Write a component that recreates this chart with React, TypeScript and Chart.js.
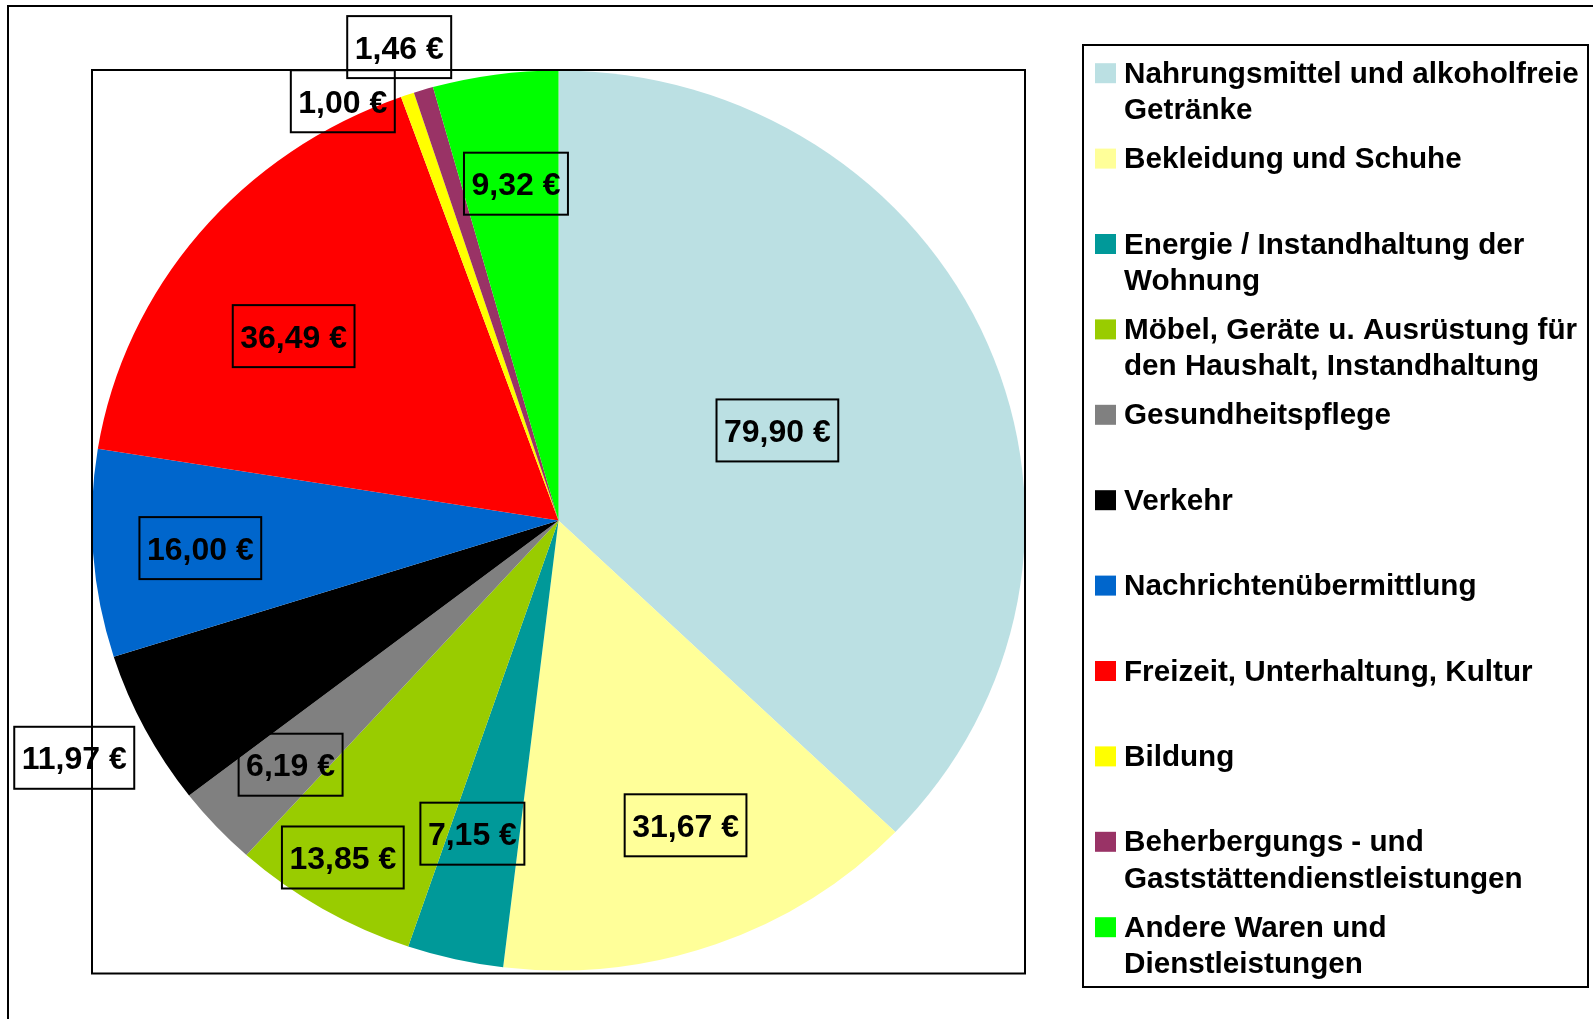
import React, { useEffect, useRef } from "react";
import { Chart, registerables } from "chart.js";

Chart.register(...registerables);

// ---- data ----
const categories: string[] = [
  "Nahrungsmittel und alkoholfreie Getränke",
  "Bekleidung und Schuhe",
  "Energie / Instandhaltung der Wohnung",
  "Möbel, Geräte u. Ausrüstung für den Haushalt, Instandhaltung",
  "Gesundheitspflege",
  "Verkehr",
  "Nachrichtenübermittlung",
  "Freizeit, Unterhaltung, Kultur",
  "Bildung",
  "Beherbergungs - und Gaststättendienstleistungen",
  "Andere Waren und Dienstleistungen",
];
const values: number[] = [79.9, 31.67, 7.15, 13.85, 6.19, 11.97, 16.0, 36.49, 1.0, 1.46, 9.32];
const colors: string[] = [
  "#BBE0E3",
  "#FFFF99",
  "#009999",
  "#99CC00",
  "#808080",
  "#000000",
  "#0066CC",
  "#FF0000",
  "#FFFF00",
  "#993366",
  "#00FF00",
];

// ---- label placement (fraction of radius, angle offset in degrees from slice middle) ----
const labelRadius: number[] = [0.51, 0.73, 0.72, 0.88, 0.79, 1.164, 0.77, 0.7, 1.04, 1.106, 0.754];
const labelAngleOffset: number[] = [0, -2.2, 2.05, 1.3, -0.55, 0.7, -0.35, -3.9, -7.5, -1.15, 0.86];

// ---- layout ----
const W = 1593;
const H = 1019;
const STRETCH = 1.037;
const FONT = '"Liberation Sans", Arial, Helvetica, sans-serif';

const formatEuro = (v: number) => v.toFixed(2).replace(".", ",") + " €";

function wrap(ctx: CanvasRenderingContext2D, text: string, maxWidth: number, scale: number): string[] {
  const words = text.split(" ");
  const lines: string[] = [];
  let cur = "";
  for (const w of words) {
    const test = cur ? cur + " " + w : w;
    if (ctx.measureText(test).width * scale > maxWidth && cur) {
      lines.push(cur);
      cur = w;
    } else {
      cur = test;
    }
  }
  if (cur) lines.push(cur);
  return lines;
}

const decor = {
  id: "excelDecor",
  beforeDraw(chart: any) {
    const ctx: CanvasRenderingContext2D = chart.ctx;
    ctx.save();
    ctx.fillStyle = "#FFFFFF";
    ctx.fillRect(0, 0, W, H);
    // outer chart border (continues beyond the visible area)
    ctx.strokeStyle = "#000000";
    ctx.lineWidth = 2;
    ctx.strokeRect(8, 6, 2000, 2000);
    ctx.restore();
  },
  beforeDatasetsDraw(chart: any) {
    const ctx: CanvasRenderingContext2D = chart.ctx;
    const arc = chart.getDatasetMeta(0).data[0];
    ctx.save();
    ctx.translate(arc.x, arc.y);
    ctx.scale(STRETCH, 1);
    ctx.translate(-arc.x, -arc.y);
  },
  afterDatasetsDraw(chart: any) {
    const ctx: CanvasRenderingContext2D = chart.ctx;
    ctx.restore();

    // plot area box
    ctx.save();
    ctx.strokeStyle = "#000000";
    ctx.lineWidth = 2;
    ctx.strokeRect(92, 70, 933, 903.5);

    // data labels
    const meta = chart.getDatasetMeta(0);
    const data: number[] = chart.data.datasets[0].data;
    ctx.font = `bold 32px ${FONT}`;
    ctx.textAlign = "center";
    ctx.textBaseline = "alphabetic";
    meta.data.forEach((el: any, i: number) => {
      const p = el.getProps(["x", "y", "startAngle", "endAngle", "outerRadius"], true);
      const mid = (p.startAngle + p.endAngle) / 2 + (labelAngleOffset[i] * Math.PI) / 180;
      const r = p.outerRadius * labelRadius[i];
      const lx = p.x + Math.cos(mid) * r * STRETCH;
      const ly = p.y + Math.sin(mid) * r;
      const txt = formatEuro(data[i]);
      const tw = ctx.measureText(txt).width;
      const bw = tw + 15;
      const bh = 62;
      ctx.lineWidth = 2;
      ctx.strokeStyle = "#000000";
      ctx.strokeRect(lx - bw / 2, ly - bh / 2, bw, bh);
      ctx.fillStyle = "#000000";
      ctx.fillText(txt, lx, ly + 11.5);
    });

    // legend
    const lx0 = 1083;
    const ly0 = 45;
    ctx.lineWidth = 2;
    ctx.strokeRect(lx0, ly0, 1588 - lx0, 987 - ly0);
    ctx.font = `bold 28.6px ${FONT}`;
    ctx.textAlign = "left";
    const labels: string[] = chart.data.labels;
    const bg: string[] = chart.data.datasets[0].backgroundColor;
    labels.forEach((lab: string, i: number) => {
      const base = 82.7 + i * 85.4;
      ctx.fillStyle = bg[i];
      ctx.fillRect(1095, base - 19.5, 21, 20);
      ctx.fillStyle = "#000000";
      const lines = wrap(ctx, lab, 462, STRETCH);
      lines.forEach((ln, j) => {
        ctx.save();
        ctx.translate(1124, base + j * 36.5);
        ctx.scale(STRETCH, 1);
        ctx.fillText(ln, 0, 0);
        ctx.restore();
      });
    });
    ctx.restore();
  },
};

export default function App() {
  const canvasRef = useRef<HTMLCanvasElement | null>(null);

  useEffect(() => {
    const canvas = canvasRef.current;
    if (!canvas) return;
    const chart = new Chart(canvas, {
      type: "pie",
      data: {
        labels: categories,
        datasets: [
          {
            data: values,
            backgroundColor: colors,
            borderWidth: 0,
            hoverOffset: 0,
            offset: 0,
          } as any,
        ],
      },
      options: {
        responsive: false,
        animation: false,
        devicePixelRatio: 1,
        events: [],
        layout: { padding: { left: 108.5, top: 70.5, right: 584.5, bottom: 48.5 } },
        plugins: {
          legend: { display: false },
          tooltip: { enabled: false },
        },
      } as any,
      plugins: [decor as any],
    });
    return () => chart.destroy();
  }, []);

  return (
    <div style={{ position: "absolute", left: 0, top: 0, width: W, height: H, background: "#fff" }}>
      <canvas ref={canvasRef} width={W} height={H} style={{ display: "block", width: W, height: H }} />
    </div>
  );
}
